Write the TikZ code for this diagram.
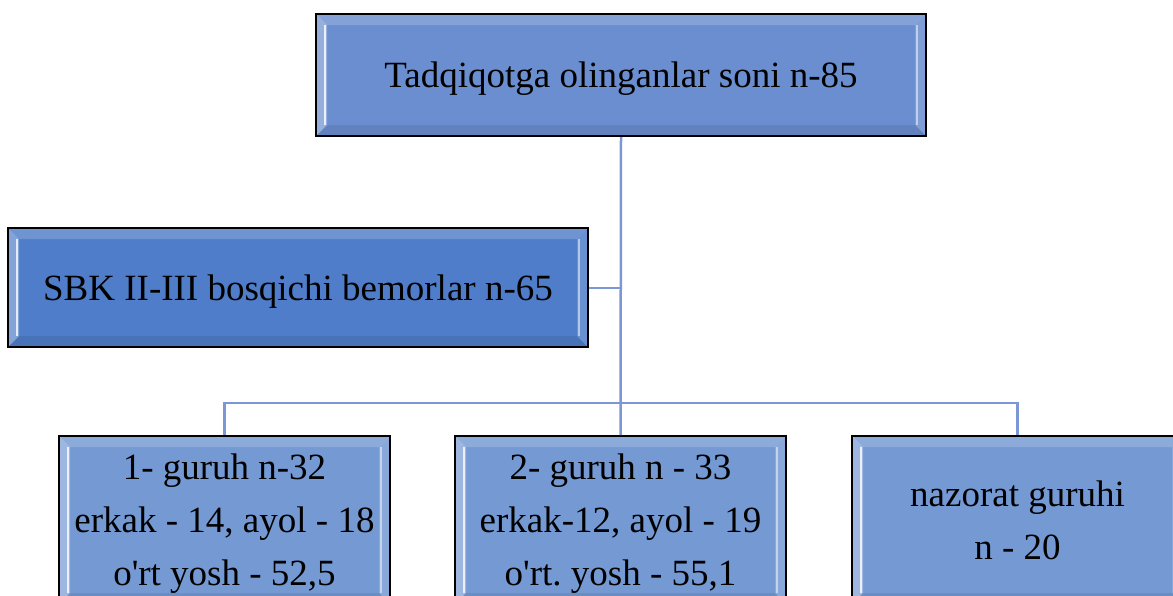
\documentclass[tikz,border=0pt]{standalone}
\usepackage{fontspec}
\setmainfont{Liberation Serif}
\newcommand\sq{{\XeTeXglyph\XeTeXcharglyph"0027\relax}}
\usetikzlibrary{calc}
\definecolor{topfill}{HTML}{6A8ECF}
\definecolor{sbkfill}{HTML}{4F7DC9}
\definecolor{botfill}{HTML}{7499D3}
\definecolor{linkc}{HTML}{7B97D6}
\tikzset{
  bevelbox/.style={draw=black, line width=2pt, fill=#1, inner sep=0pt,
    font=\fontsize{37}{53}\selectfont\frenchspacing, align=center, text depth=0pt,
    path picture={
      \coordinate (nw) at (path picture bounding box.north west);
      \coordinate (ne) at (path picture bounding box.north east);
      \coordinate (sw) at (path picture bounding box.south west);
      \coordinate (se) at (path picture bounding box.south east);
      \fill[white,opacity=0.18] (nw) -- (ne) -- ($(ne)+(-11pt,-11pt)$) -- ($(nw)+(11pt,-11pt)$) -- cycle;
      \fill[white,opacity=0.3] (nw) -- ($(nw)+(11pt,-11pt)$) -- ($(sw)+(11pt,11pt)$) -- (sw) -- cycle;
      \fill[white,opacity=0.15] (ne) -- ($(ne)+(-11pt,-11pt)$) -- ($(se)+(-11pt,11pt)$) -- (se) -- cycle;
      \fill[black,opacity=0.08] (sw) -- ($(sw)+(11pt,11pt)$) -- ($(se)+(-11pt,11pt)$) -- (se) -- cycle;
      \draw[white,opacity=0.8,line width=1.5pt] ($(nw)+(9pt,-11pt)$) -- ($(sw)+(9pt,11pt)$);
      \draw[white,opacity=0.5,line width=1.2pt] ($(ne)+(-9pt,-11pt)$) -- ($(se)+(-9pt,11pt)$);
    }},
  link/.style={draw=linkc, line width=2.5pt}
}
\begin{document}
\begin{tikzpicture}[x=1pt,y=-1pt]
\useasboundingbox (0,0) rectangle (1173,595);
\clip (0,0) rectangle (1173,595);
\node[bevelbox=topfill, minimum width=610pt, minimum height=122pt] (top) at (621,75) {Tadqiqotga olinganlar soni n-85};
\node[bevelbox=sbkfill, minimum width=580pt, minimum height=119pt] (sbk) at (298,287.5) {SBK II-III bosqichi bemorlar n-65};
\node[bevelbox=botfill, minimum width=331pt, minimum height=168pt] (g1) at (224.5,520) {1- guruh n-32\\erkak - 14, ayol - 18\\o\sq rt yosh - 52,5};
\node[bevelbox=botfill, minimum width=331pt, minimum height=168pt] (g2) at (620.5,520) {2- guruh n - 33\\erkak-12, ayol - 19\\o\sq rt. yosh - 55,1};
\node[bevelbox=botfill, minimum width=331pt, minimum height=168pt] (g3) at (1017.5,520) {nazorat guruhi\\n - 20};
\coordinate (bus) at (621,403);
\coordinate (sbkj) at (621,288);
\draw[link] (top.south) -- (g2.north);
\draw[link] (sbk.east |- sbkj) -- (sbkj);
\draw[link] (g1.north) -- (g1.north |- bus) -- (g3.north |- bus) -- (g3.north);
\end{tikzpicture}
\end{document}
